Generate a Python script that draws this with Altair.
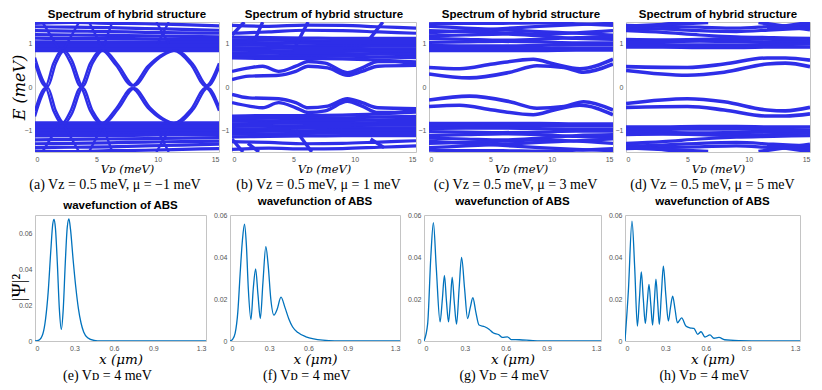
import altair as alt
import pandas as pd

BLUE = "#2e2ee8"
WF = "#0072BD"

GRID6 = [0, 3, 6, 9, 12, 15]

# ---------------- (a) mu = -1 ----------------
A_CONT = [
    [1.47, 1.49, 1.47, 1.46, 1.44, 1.41],
    [1.39, 1.38, 1.37, 1.35, 1.33, 1.31],
    [1.30, 1.29, 1.28, 1.26, 1.25, 1.24],
    [1.21, 1.20, 1.19, 1.18, 1.17, 1.16],
    [1.13, 1.12, 1.12, 1.11, 1.10, 1.10],
    [1.04, 1.04, 1.04, 1.04, 1.04, 1.04],
    [1.00, 1.00, 1.00, 1.00, 1.00, 1.00],
    [0.96, 0.96, 0.96, 0.96, 0.96, 0.96],
    [0.92, 0.92, 0.92, 0.92, 0.92, 0.92],
    [0.88, 0.88, 0.88, 0.88, 0.88, 0.88],
    [0.84, 0.84, 0.84, 0.84, 0.84, 0.84],
    [-0.83, -0.83, -0.83, -0.83, -0.83, -0.83],
    [-0.87, -0.87, -0.87, -0.87, -0.87, -0.87],
    [-0.91, -0.91, -0.91, -0.91, -0.91, -0.91],
    [-0.95, -0.95, -0.95, -0.95, -0.95, -0.95],
    [-0.99, -0.99, -0.99, -0.99, -0.99, -0.99],
    [-1.03, -1.03, -1.03, -1.03, -1.03, -1.03],
    [-1.07, -1.07, -1.07, -1.07, -1.07, -1.07],
    [-1.13, -1.12, -1.12, -1.11, -1.10, -1.10],
    [-1.22, -1.21, -1.20, -1.19, -1.18, -1.17],
    [-1.31, -1.30, -1.29, -1.27, -1.26, -1.25],
    [-1.40, -1.39, -1.38, -1.36, -1.34, -1.32],
    [-1.48, -1.49, -1.47, -1.46, -1.44, -1.42],
]
A_ABS = [
    ([0, 0.85, 1.5, 2.2, 2.9, 3.7, 4.5, 5.4, 6.6, 7.9, 9.2, 10.2, 11.3, 12.7, 13.9, 15],
     [0.55, 0.02, 0.55, 0.84, 0.55, 0.02, 0.55, 0.85, 0.50, 0.03, 0.48, 0.72, 0.84, 0.52, 0.02, 0.55]),
    ([0, 0.85, 1.5, 2.2, 2.9, 3.7, 4.5, 5.4, 6.6, 7.9, 9.2, 10.2, 11.3, 12.7, 13.9, 15],
     [-0.55, -0.02, -0.55, -0.84, -0.55, -0.02, -0.55, -0.85, -0.50, -0.03, -0.48, -0.72, -0.84, -0.52, -0.02, -0.55]),
    ([0, 1.05, 1.7, 2.4, 3.0, 3.9, 4.7, 5.6, 6.8, 8.1, 9.4, 10.4, 11.5, 12.9, 14.1, 15],
     [0.68, 0.02, 0.55, 0.84, 0.62, 0.02, 0.55, 0.85, 0.50, 0.03, 0.48, 0.72, 0.84, 0.52, 0.02, 0.45]),
    ([0, 1.05, 1.7, 2.4, 3.0, 3.9, 4.7, 5.6, 6.8, 8.1, 9.4, 10.4, 11.5, 12.9, 14.1, 15],
     [-0.68, -0.02, -0.55, -0.84, -0.62, -0.02, -0.55, -0.85, -0.50, -0.03, -0.48, -0.72, -0.84, -0.52, -0.02, -0.45]),
]
A_STEEP = [
    ([0.6, 1.9], [1.5, 0.9]), ([3.6, 2.4], [1.5, 0.9]),
    ([4.4, 5.4], [1.5, 0.95]), ([6.3, 5.6], [1.5, 0.95]),
    ([9.9, 10.9], [1.5, 1.0]), ([10.9, 10.0], [1.5, 1.0]),
    ([0.6, 1.9], [-1.5, -0.9]), ([3.6, 2.4], [-1.5, -0.9]),
    ([4.4, 5.4], [-1.5, -0.95]), ([6.3, 5.6], [-1.5, -0.95]),
    ([9.9, 10.9], [-1.5, -1.0]), ([10.9, 10.0], [-1.5, -1.0]),
]

# ---------------- (b) mu = 1 ----------------
B_CONT = [
    [1.42, 1.40, 1.43, 1.42, 1.39, 1.36],
    [1.24, 1.27, 1.31, 1.30, 1.27, 1.24],
    [1.15, 1.14, 1.13, 1.12, 1.12, 1.12],
    [1.09, 1.08, 1.07, 1.06, 1.06, 1.06],
    [1.03, 1.02, 1.01, 1.00, 1.00, 1.00],
    [0.97, 0.96, 0.95, 0.95, 0.94, 0.94],
    [0.91, 0.90, 0.89, 0.89, 0.88, 0.88],
    [0.85, 0.84, 0.83, 0.83, 0.82, 0.82],
    [0.79, 0.78, 0.77, 0.77, 0.76, 0.75],
    [0.73, 0.72, 0.71, 0.71, 0.69, 0.68],
    [0.67, 0.66, 0.66, 0.65, 0.62, 0.58],
    [-0.67, -0.66, -0.66, -0.65, -0.62, -0.58],
    [-0.73, -0.72, -0.71, -0.71, -0.69, -0.68],
    [-0.79, -0.78, -0.77, -0.77, -0.76, -0.75],
    [-0.85, -0.84, -0.83, -0.83, -0.82, -0.82],
    [-0.91, -0.90, -0.89, -0.89, -0.88, -0.88],
    [-0.97, -0.96, -0.95, -0.95, -0.94, -0.94],
    [-1.03, -1.02, -1.01, -1.00, -1.00, -1.00],
    [-1.09, -1.08, -1.07, -1.06, -1.06, -1.06],
    [-1.15, -1.14, -1.13, -1.12, -1.12, -1.12],
    [-1.26, -1.28, -1.31, -1.30, -1.27, -1.24],
    [-1.44, -1.41, -1.43, -1.42, -1.39, -1.36],
]
B_ABS = [
    ([0, 1.4, 2.5, 3.8, 5.2, 6.2, 7.6, 9.4, 10.6, 11.9, 13.3, 15],
     [0.36, 0.44, 0.48, 0.36, 0.48, 0.59, 0.55, 0.33, 0.44, 0.59, 0.59, 0.52]),
    ([0, 1.4, 3.8, 5.2, 6.2, 7.8, 9.4, 10.6, 11.9, 15],
     [0.17, 0.25, 0.27, 0.36, 0.48, 0.44, 0.27, 0.36, 0.48, 0.50]),
    ([0, 1.4, 3.8, 5.2, 6.2, 7.8, 9.4, 10.6, 11.9, 15],
     [-0.17, -0.25, -0.27, -0.36, -0.48, -0.44, -0.27, -0.36, -0.48, -0.50]),
    ([0, 1.4, 2.5, 3.8, 5.2, 6.2, 7.6, 9.4, 10.6, 11.9, 13.3, 15],
     [-0.36, -0.44, -0.48, -0.36, -0.48, -0.59, -0.55, -0.33, -0.44, -0.59, -0.59, -0.52]),
]
B_STEEP = [
    ([0, 1.0], [1.20, 1.5]), ([1.8, 2.5], [1.05, 1.5]),
    ([5.2, 6.2], [0.95, 1.5]), ([11.2, 12.3], [1.1, 1.5]),
    ([0, 0.9], [-1.2, -1.5]), ([1.3, 2.2], [-1.3, -1.5]),
    ([5.2, 6.5], [-1.0, -1.5]), ([11.3, 12.4], [-1.2, -1.4]),
]

# ---------------- (c) mu = 3 ----------------
C_CONT = [
    [1.46, 1.47, 1.47, 1.48, 1.46, 1.42],
    [1.40, 1.36, 1.32, 1.28, 1.24, 1.20],
    [1.25, 1.30, 1.35, 1.40, 1.44, 1.47],
    [1.30, 1.28, 1.25, 1.22, 1.25, 1.30],
    [1.18, 1.20, 1.22, 1.18, 1.12, 1.10],
    [1.12, 1.10, 1.08, 1.10, 1.14, 1.16],
    [1.03, 1.04, 1.05, 1.04, 1.02, 1.02],
    [0.96, 0.95, 0.95, 0.96, 0.97, 0.97],
    [0.90, 0.90, 0.89, 0.89, 0.90, 0.90],
    [0.84, 0.84, 0.84, 0.84, 0.85, 0.85],
    [-0.84, -0.84, -0.84, -0.84, -0.85, -0.85],
    [-0.90, -0.90, -0.89, -0.89, -0.90, -0.90],
    [-0.96, -0.95, -0.95, -0.96, -0.97, -0.97],
    [-1.03, -1.04, -1.05, -1.04, -1.02, -1.02],
    [-1.12, -1.10, -1.08, -1.10, -1.14, -1.16],
    [-1.18, -1.20, -1.22, -1.18, -1.12, -1.10],
    [-1.30, -1.28, -1.25, -1.22, -1.25, -1.30],
    [-1.25, -1.30, -1.35, -1.40, -1.44, -1.47],
    [-1.40, -1.36, -1.32, -1.28, -1.24, -1.20],
    [-1.46, -1.47, -1.47, -1.48, -1.46, -1.42],
]
C_ABS = [
    ([0, 2.5, 5.2, 8.5, 10.2, 12.3, 15], [0.45, 0.42, 0.53, 0.64, 0.53, 0.42, 0.64]),
    ([0, 3.3, 6.6, 8.8, 11.0, 12.6, 15], [0.30, 0.21, 0.34, 0.49, 0.45, 0.34, 0.53]),
    ([0, 3.3, 6.6, 8.8, 11.0, 12.6, 15], [-0.30, -0.21, -0.34, -0.49, -0.45, -0.34, -0.53]),
    ([0, 2.5, 5.2, 8.5, 10.2, 12.3, 15], [-0.45, -0.42, -0.53, -0.64, -0.53, -0.42, -0.64]),
]

# ---------------- (d) mu = 5 ----------------
D_CONT = [
    [1.42, 1.40, 1.38, 1.36, 1.40, 1.42],
    [1.36, 1.34, 1.30, 1.28, 1.32, 1.36],
    [1.30, 1.26, 1.20, 1.16, 1.14, 1.12],
    [1.10, 1.09, 1.10, 1.12, 1.10, 1.06],
    [1.04, 1.05, 1.06, 1.05, 1.04, 1.04],
    [0.98, 0.98, 0.97, 0.97, 0.98, 0.99],
    [0.92, 0.92, 0.91, 0.91, 0.92, 0.92],
    [-0.92, -0.92, -0.91, -0.91, -0.92, -0.92],
    [-0.98, -0.98, -0.97, -0.97, -0.98, -0.99],
    [-1.04, -1.05, -1.06, -1.05, -1.04, -1.04],
    [-1.10, -1.09, -1.10, -1.12, -1.10, -1.06],
    [-1.30, -1.26, -1.20, -1.16, -1.14, -1.12],
    [-1.36, -1.34, -1.30, -1.28, -1.32, -1.36],
    [-1.42, -1.40, -1.38, -1.36, -1.40, -1.42],
]
D_STEEP = [
    ([0, 4.3], [1.32, 1.49]), ([0, 6.7], [1.40, 1.49]),
    ([10.8, 15], [1.49, 1.32]), ([11.5, 15], [1.35, 1.49]),
    ([0, 4.3], [-1.32, -1.49]), ([0, 6.7], [-1.40, -1.49]),
    ([10.8, 15], [-1.49, -1.32]), ([11.5, 15], [-1.35, -1.49]),
]
D_ABS = [
    ([0, 5, 8, 11.5, 13, 15], [0.47, 0.45, 0.53, 0.67, 0.67, 0.62]),
    ([0, 5, 8, 11.5, 13, 15], [0.38, 0.27, 0.34, 0.53, 0.55, 0.47]),
    ([0, 5, 8, 11.5, 13, 15], [-0.38, -0.27, -0.34, -0.53, -0.55, -0.47]),
    ([0, 5, 8, 11.5, 13, 15], [-0.47, -0.45, -0.53, -0.67, -0.67, -0.62]),
]

# ---------------- wavefunctions ----------------
E_X = [0, 0.03, 0.06, 0.08, 0.10, 0.12, 0.135, 0.145, 0.155, 0.17, 0.185, 0.2, 0.215, 0.23,
       0.245, 0.258, 0.27, 0.29, 0.31, 0.33, 0.35, 0.37, 0.40, 0.45, 0.5, 1.3]
E_Y = [0, 0.0005, 0.004, 0.012, 0.027, 0.050, 0.065, 0.0676, 0.063, 0.043, 0.018, 0.0065, 0.018,
       0.043, 0.063, 0.0678, 0.062, 0.045, 0.030, 0.018, 0.010, 0.005, 0.0018, 0.0003, 0, 0]

F_X = [0, 0.02, 0.039, 0.06, 0.0775, 0.095, 0.111, 0.125, 0.14, 0.160, 0.178, 0.196, 0.214, 0.232,
       0.252, 0.274, 0.292, 0.312, 0.336, 0.36, 0.39, 0.42, 0.45, 0.478, 0.52, 0.581, 0.64, 0.71, 0.8, 1.3]
F_Y = [0, 0.0008, 0.0036, 0.014, 0.032, 0.048, 0.0556, 0.046, 0.025, 0.0102, 0.025, 0.0343, 0.022,
       0.0107, 0.028, 0.0449, 0.036, 0.02, 0.0123, 0.015, 0.0209, 0.016, 0.0105, 0.0068, 0.004, 0.002,
       0.001, 0.0004, 0.0001, 0]

G_X = [0, 0.027, 0.05, 0.069, 0.09, 0.118, 0.135, 0.150, 0.165, 0.180, 0.194, 0.207, 0.223, 0.239,
       0.258, 0.276, 0.298, 0.320, 0.34, 0.359, 0.38, 0.404, 0.446, 0.48, 0.507, 0.55, 0.576, 0.613,
       0.64, 0.70, 0.8, 0.9, 1.3]
G_Y = [0, 0.0083, 0.04, 0.0564, 0.035, 0.0091, 0.02, 0.0312, 0.019, 0.0091, 0.019, 0.0304, 0.018,
       0.008, 0.025, 0.0398, 0.025, 0.0107, 0.016, 0.0206, 0.014, 0.0076, 0.0068, 0.0055, 0.0039,
       0.003, 0.0017, 0.002, 0.0007, 0.0006, 0.0002, 0, 0]

H_X = [0, 0.025, 0.052, 0.072, 0.092, 0.107, 0.121, 0.136, 0.151, 0.165, 0.178, 0.192, 0.205,
       0.218, 0.230, 0.243, 0.255, 0.27, 0.285, 0.303, 0.322, 0.338, 0.354, 0.372, 0.389, 0.421,
       0.452, 0.482, 0.512, 0.540, 0.565, 0.594, 0.631, 0.661, 0.698, 0.74, 0.85, 1.05, 1.3]
H_Y = [0, 0.0238, 0.0571, 0.035, 0.0071, 0.02, 0.0329, 0.02, 0.0083, 0.018, 0.0270, 0.017, 0.0076,
       0.019, 0.0294, 0.018, 0.0079, 0.022, 0.0357, 0.022, 0.0095, 0.016, 0.0214, 0.015, 0.0087,
       0.011, 0.0071, 0.0063, 0.006, 0.0032, 0.0044, 0.0019, 0.0029, 0.0013, 0.0017, 0.0006,
       0.0002, 0, 0]

SPEC_TITLE = "Spectrum of hybrid structure"
WF_TITLE = "wavefunction of ABS"
CAPTIONS_TOP = [
    "(a) Vz = 0.5 meV, μ = −1 meV",
    "(b) Vz = 0.5 meV, μ = 1 meV",
    "(c) Vz = 0.5 meV, μ = 3 meV",
    "(d) Vz = 0.5 meV, μ = 5 meV",
]
CAPTIONS_BOTTOM = ["(e) Vᴅ = 4 meV", "(f) Vᴅ = 4 meV", "(g) Vᴅ = 4 meV", "(h) Vᴅ = 4 meV"]


def spectrum_frame(cont, abs_curves, steep, abs_width):
    rows = []
    cid = 0
    for line in cont:
        for v, e in zip(GRID6, line):
            rows.append({"V": v, "E": e, "curve": cid, "w": 3.2})
        cid += 1
    for vs, es in abs_curves:
        for v, e in zip(vs, es):
            rows.append({"V": v, "E": e, "curve": cid, "w": abs_width})
        cid += 1
    for vs, es in steep:
        for v, e in zip(vs, es):
            rows.append({"V": v, "E": e, "curve": cid, "w": abs_width})
        cid += 1
    return pd.DataFrame(rows)


TITLE_FONT = "Liberation Sans"
SERIF = "Liberation Serif"
ITALIC_SERIF = "DejaVu Serif"


def caption(chart, text):
    return alt.vconcat(
        chart,
        title=alt.TitleParams(text, orient="bottom", anchor="middle", font=SERIF,
                              fontSize=14, fontWeight="normal", offset=3, color="black"),
    )


def spectrum_panel(df, cap, first):
    if first:
        yaxis = alt.Axis(values=[-1, 0, 1], title="E (meV)", titleFont=ITALIC_SERIF,
                         titleFontStyle="italic", titleFontSize=16, titleX=-8)
    else:
        yaxis = alt.Axis(values=[-1, 0, 1], title=None)
    ch = alt.Chart(df).mark_line(interpolate="monotone", clip=True, color=BLUE).encode(
        x=alt.X("V:Q", scale=alt.Scale(domain=[0, 15], nice=False),
                axis=alt.Axis(values=[0, 5, 10, 15], title="Vᴅ (meV)", titleFont=ITALIC_SERIF,
                              titleFontStyle="italic", titleFontSize=11.5)),
        y=alt.Y("E:Q", scale=alt.Scale(domain=[-1.5, 1.5], nice=False), axis=yaxis),
        detail="curve:N",
        strokeWidth=alt.StrokeWidth("w:Q", scale=None),
    ).properties(width=184, height=130,
                 title=alt.TitleParams(SPEC_TITLE, font=TITLE_FONT, fontSize=11.5,
                                       fontWeight="bold", offset=2, color="black"))
    return caption(ch, cap)


def wf_panel(xs, ys, ymax, width, cap, first):
    df = pd.DataFrame({"x": xs, "y": ys})
    if first:
        yaxis = alt.Axis(values=[0, 0.02, 0.04, 0.06], format=".2~f", title="|Ψ|²",
                         titleFont=SERIF, titleFontSize=19, titleFontStyle="normal",
                         titleX=-7, titleY=72)
    else:
        yaxis = alt.Axis(values=[0, 0.02, 0.04, 0.06], format=".2~f", title=None)
    ch = alt.Chart(df).mark_line(interpolate="monotone", clip=True, color=WF,
                                 strokeWidth=1.3).encode(
        x=alt.X("x:Q", scale=alt.Scale(domain=[0, 1.3], nice=False),
                axis=alt.Axis(values=[0, 0.3, 0.6, 0.9, 1.3], format=".1~f",
                              title="x (μm)", titleFont=ITALIC_SERIF, titleFontStyle="italic",
                              titleFontSize=13.5)),
        y=alt.Y("y:Q", scale=alt.Scale(domain=[0, ymax], nice=False), axis=yaxis),
    ).properties(width=width, height=126,
                 title=alt.TitleParams(WF_TITLE, font=TITLE_FONT, fontSize=11.5,
                                       fontWeight="bold", offset=4, color="black"))
    return caption(ch, cap)


top = alt.hconcat(
    spectrum_panel(spectrum_frame(A_CONT, A_ABS, A_STEEP, 2.4), CAPTIONS_TOP[0], True),
    spectrum_panel(spectrum_frame(B_CONT, B_ABS, B_STEEP, 3.4), CAPTIONS_TOP[1], False),
    spectrum_panel(spectrum_frame(C_CONT, C_ABS, [], 3.6), CAPTIONS_TOP[2], False),
    spectrum_panel(spectrum_frame(D_CONT, D_ABS, D_STEEP, 3.6), CAPTIONS_TOP[3], False),
    spacing=0,
)
bottom = alt.hconcat(
    wf_panel(E_X, E_Y, 0.07, 171, CAPTIONS_BOTTOM[0], True),
    wf_panel(F_X, F_Y, 0.06, 170, CAPTIONS_BOTTOM[1], False),
    wf_panel(G_X, G_Y, 0.06, 177, CAPTIONS_BOTTOM[2], False),
    wf_panel(H_X, H_Y, 0.06, 175, CAPTIONS_BOTTOM[3], False),
    spacing=5,
)

chart = alt.vconcat(top, bottom, spacing=3).properties(padding=0).configure_view(
    stroke="#c4c4c4", strokeWidth=1
).configure_axis(
    grid=False, domain=False, ticks=False, labelFont=TITLE_FONT, labelFontSize=7,
    labelColor="#555555", labelPadding=3, titleColor="black", titleFontWeight="normal",
    titlePadding=1,
).configure_concat(spacing=0)

chart.save("out.html", embed_options={"renderer": "svg", "actions": False})
